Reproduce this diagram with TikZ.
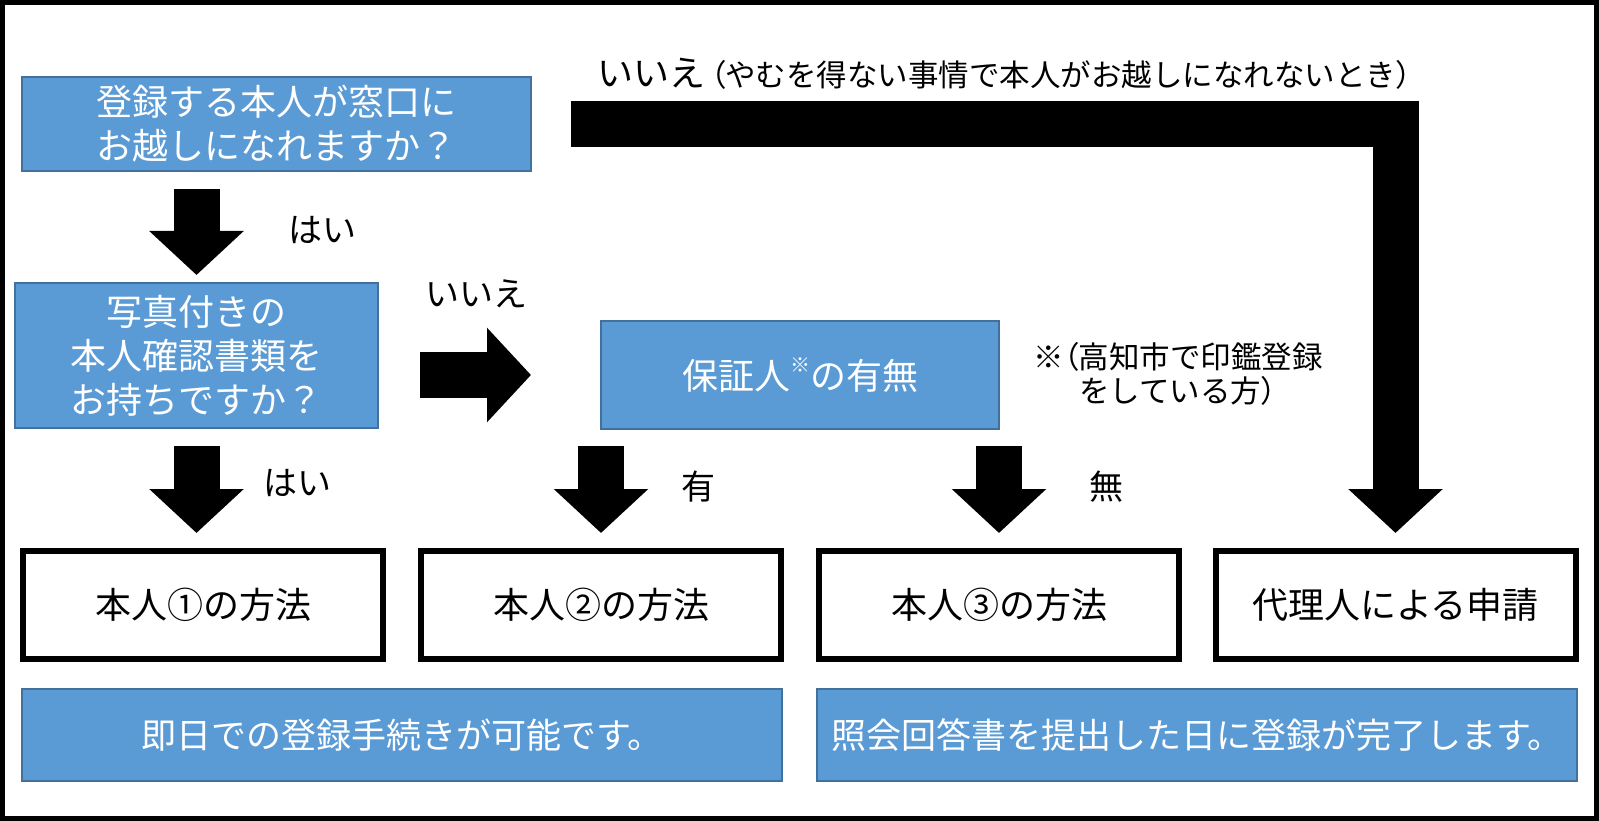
\documentclass[tikz,border=0pt]{standalone}
\usepackage{fontspec}
\setmainfont{Noto Sans CJK JP}
\usetikzlibrary{arrows.meta}
\definecolor{boxblue}{HTML}{5B9BD5}
\definecolor{boxedge}{HTML}{41719C}
\newcommand{\tightparen}[1]{{\addfontfeature{RawFeature=+palt}#1}}

\begin{document}
\begin{tikzpicture}[x=1pt,y=-1pt,line join=miter,
  qbox/.style={draw=boxedge,line width=2pt,fill=boxblue,text=white,align=center,
    inner sep=0pt,font=\fontsize{36}{44}\selectfont},
  mbox/.style={draw=black,line width=6pt,fill=white,align=center,inner sep=0pt,
    minimum width=360pt,minimum height=108pt,font=\fontsize{36}{44}\selectfont},
  lbl/.style={inner sep=0pt,font=\fontsize{34}{40}\selectfont},
  flow/.style={line width=46pt,-{Triangle[length=44pt,width=92pt]}}]
  \useasboundingbox (0,0) rectangle (1599,821);
  \draw[line width=5pt] (2.5,2.5) rectangle (1596.5,818.5);

  % questions
  \node[qbox,minimum width=509pt,minimum height=94pt] (q1) at (276.5,124)
    {登録する本人が窓口に\\お越しになれますか？};
  \node[qbox,minimum width=363pt,minimum height=145pt] (q2) at (196.5,355.5)
    {写真付きの\\本人確認書類を\\お持ちですか？};
  \node[qbox,minimum width=398pt,minimum height=108pt] (q3) at (800,375)
    {保証人\raisebox{.45em}{\fontsize{20}{20}\selectfont ※}の有無};
  \node[align=center,inner sep=0pt,font=\fontsize{30.5}{34}\selectfont] (note) at (1178,374)
    {※\tightparen{（}高知市で印鑑登録\\をしている方\tightparen{）}};

  % methods
  \node[mbox] (m1) at (203,605) {本人①の方法};
  \node[mbox] (m2) at (601,605) {本人②の方法};
  \node[mbox] (m3) at (999,605) {本人③の方法};
  \node[mbox] (m4) at (1395.5,605) {代理人による申請};

  % results
  \node[qbox,minimum width=760pt,minimum height=92pt,font=\fontsize{35}{40}\selectfont]
    (r1) at (402,735) {即日での登録手続きが可能です。};
  \node[qbox,minimum width=760pt,minimum height=92pt,font=\fontsize{35}{40}\selectfont]
    (r2) at (1197,735) {照会回答書を提出した日に登録が完了します。};

  % labels
  \node[lbl] (yes1) at (322,230) {はい};
  \node[lbl] (no1) at (476,294) {いいえ};
  \node[lbl] (yes2) at (297,483) {はい};
  \node[lbl] (ari) at (698,487) {有};
  \node[lbl] (nashi) at (1106,487) {無};
  \node[anchor=west,inner sep=0pt] (no2) at (597,74)
    {\fontsize{36}{40}\selectfont いいえ\hspace{5pt}\fontsize{30.5}{36}\selectfont
     \tightparen{（}やむを得ない事情で本人がお越しになれないとき\tightparen{）}};

  % arrows
  \draw[flow,shorten <=17pt,shorten >=7pt] (q1.south -| q2.north) -- (q2.north);
  \draw[flow,shorten <=41pt,shorten >=69pt] (q2.east |- q3.west) -- (q3.west);
  \draw[flow,shorten <=17pt,shorten >=15pt] (q2.south) -- (q2.south |- m1.north);
  \draw[flow,shorten <=16pt,shorten >=15pt] (q3.south -| m2.north) -- (m2.north);
  \draw[flow,shorten <=16pt,shorten >=15pt] (q3.south -| m3.north) -- (m3.north);
  \draw[flow,shorten <=39pt,shorten >=15pt] (q1.east) -- (q1.east -| m4.north) -- (m4.north);
\end{tikzpicture}
\end{document}
